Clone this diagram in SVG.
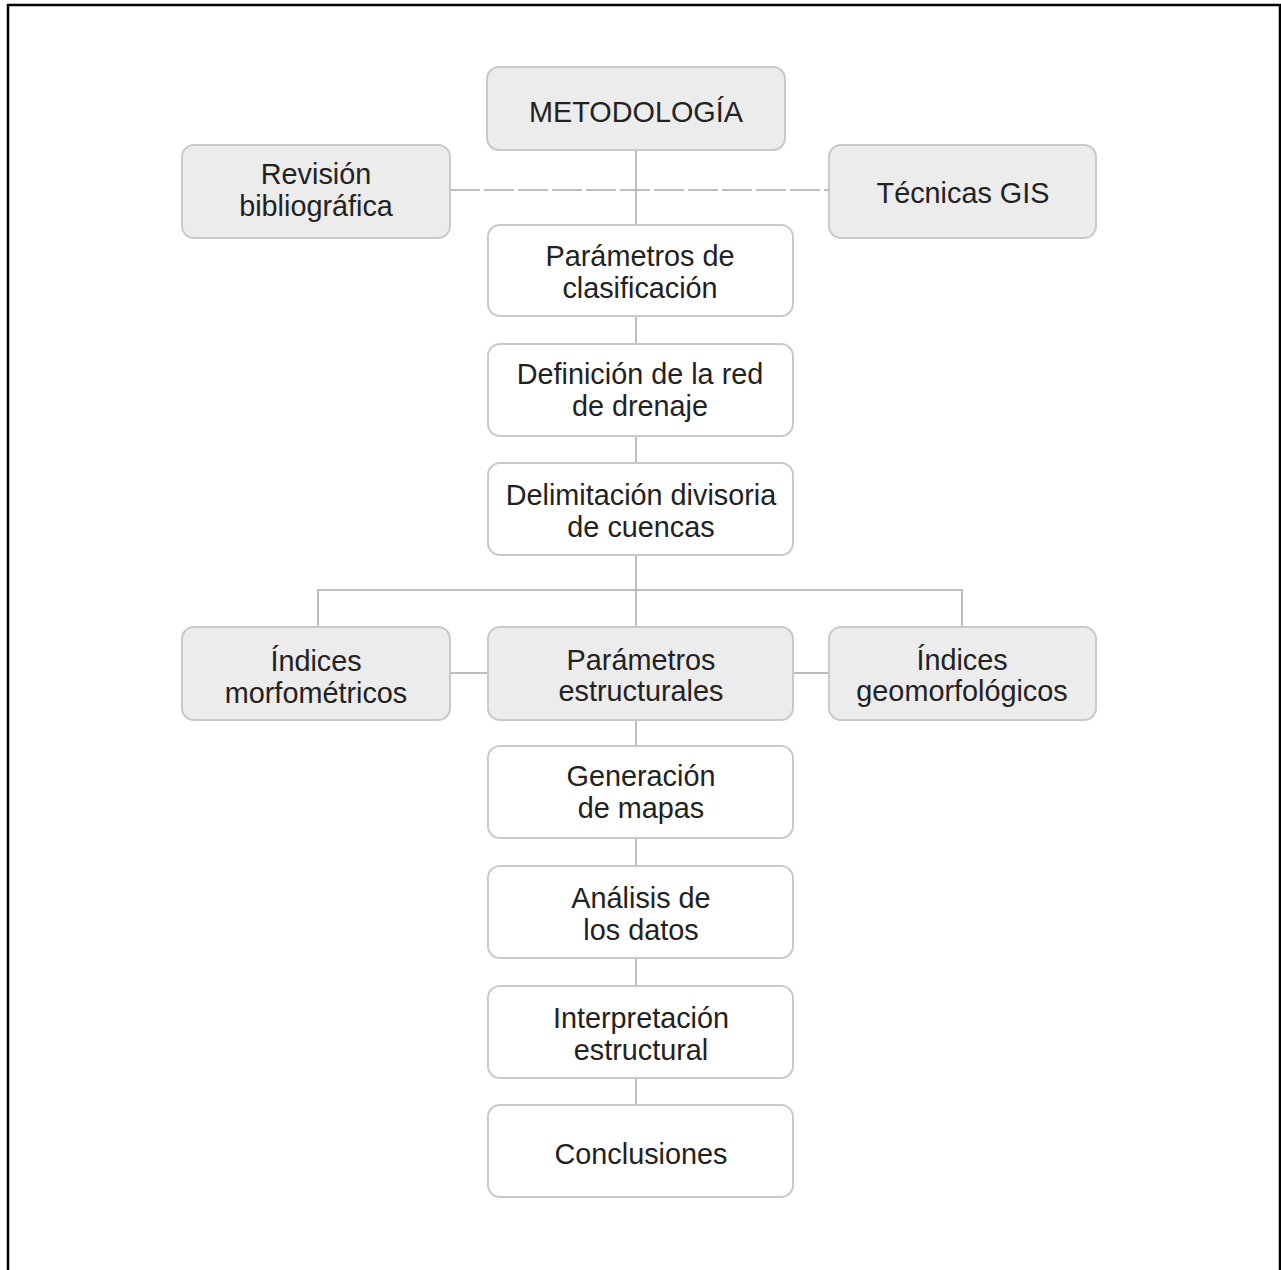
<svg xmlns="http://www.w3.org/2000/svg" width="1281" height="1270" viewBox="0 0 1281 1270">
<style>
.g{fill:#ececec;stroke:#c9c9c9;stroke-width:2}
.w{fill:#ffffff;stroke:#c9c9c9;stroke-width:2}
.t{font-family:"Liberation Sans",Arial,sans-serif;font-size:28.8px;fill:#222;text-anchor:middle}
.c{stroke:#bdbdbd;stroke-width:2;fill:none}
.d{stroke:#bdbdbd;stroke-width:2;fill:none;stroke-dasharray:30 4}
</style>
<rect width="1281" height="1270" fill="#fff"/>
<path d="M8,1270 V5 H1280 V1270" fill="none" stroke="#000" stroke-width="2.5"/>
<g id="connectors">
<line class="d" x1="450" y1="190" x2="829" y2="190"/>
<line class="c" x1="636" y1="150" x2="636" y2="225"/>
<line class="c" x1="636" y1="316" x2="636" y2="344"/>
<line class="c" x1="636" y1="436" x2="636" y2="463"/>
<line class="c" x1="636" y1="555" x2="636" y2="627"/>
<path class="c" d="M318,627 V590 H962 V627"/>
<line class="c" x1="450" y1="673" x2="488" y2="673"/>
<line class="c" x1="793" y1="673" x2="829" y2="673"/>
<line class="c" x1="636" y1="720" x2="636" y2="746"/>
<line class="c" x1="636" y1="838" x2="636" y2="866"/>
<line class="c" x1="636" y1="958" x2="636" y2="986"/>
<line class="c" x1="636" y1="1078" x2="636" y2="1105"/>
</g>
<g id="metodologia"><rect class="g" x="487" y="67" width="298" height="83" rx="12"/><text class="t" x="636" y="122">METODOLOGÍA</text></g>
<g id="revision"><rect class="g" x="182" y="145" width="268" height="93" rx="12"/><text class="t" x="316" y="184">Revisión</text><text class="t" x="316" y="216">bibliográfica</text></g>
<g id="tecnicas"><rect class="g" x="829" y="145" width="267" height="93" rx="12"/><text class="t" x="963" y="203">Técnicas GIS</text></g>
<g id="parametros-clasificacion"><rect class="w" x="488" y="225" width="305" height="91" rx="12"/><text class="t" x="640" y="266">Parámetros de</text><text class="t" x="640" y="298">clasificación</text></g>
<g id="definicion"><rect class="w" x="488" y="344" width="305" height="92" rx="12"/><text class="t" x="640" y="384">Definición de la red</text><text class="t" x="640" y="416">de drenaje</text></g>
<g id="delimitacion"><rect class="w" x="488" y="463" width="305" height="92" rx="12"/><text class="t" x="641" y="505">Delimitación divisoria</text><text class="t" x="641" y="537">de cuencas</text></g>
<g id="morfometricos"><rect class="g" x="182" y="627" width="268" height="93" rx="12"/><text class="t" x="316" y="671">Índices</text><text class="t" x="316" y="703">morfométricos</text></g>
<g id="estructurales"><rect class="g" x="488" y="627" width="305" height="93" rx="12"/><text class="t" x="641" y="670">Parámetros</text><text class="t" x="641" y="701">estructurales</text></g>
<g id="geomorfologicos"><rect class="g" x="829" y="627" width="267" height="93" rx="12"/><text class="t" x="962" y="670">Índices</text><text class="t" x="962" y="701">geomorfológicos</text></g>
<g id="generacion"><rect class="w" x="488" y="746" width="305" height="92" rx="12"/><text class="t" x="641" y="786">Generación</text><text class="t" x="641" y="818">de mapas</text></g>
<g id="analisis"><rect class="w" x="488" y="866" width="305" height="92" rx="12"/><text class="t" x="641" y="908">Análisis de</text><text class="t" x="641" y="940">los datos</text></g>
<g id="interpretacion"><rect class="w" x="488" y="986" width="305" height="92" rx="12"/><text class="t" x="641" y="1028">Interpretación</text><text class="t" x="641" y="1060">estructural</text></g>
<g id="conclusiones"><rect class="w" x="488" y="1105" width="305" height="92" rx="12"/><text class="t" x="641" y="1164">Conclusiones</text></g>
</svg>
